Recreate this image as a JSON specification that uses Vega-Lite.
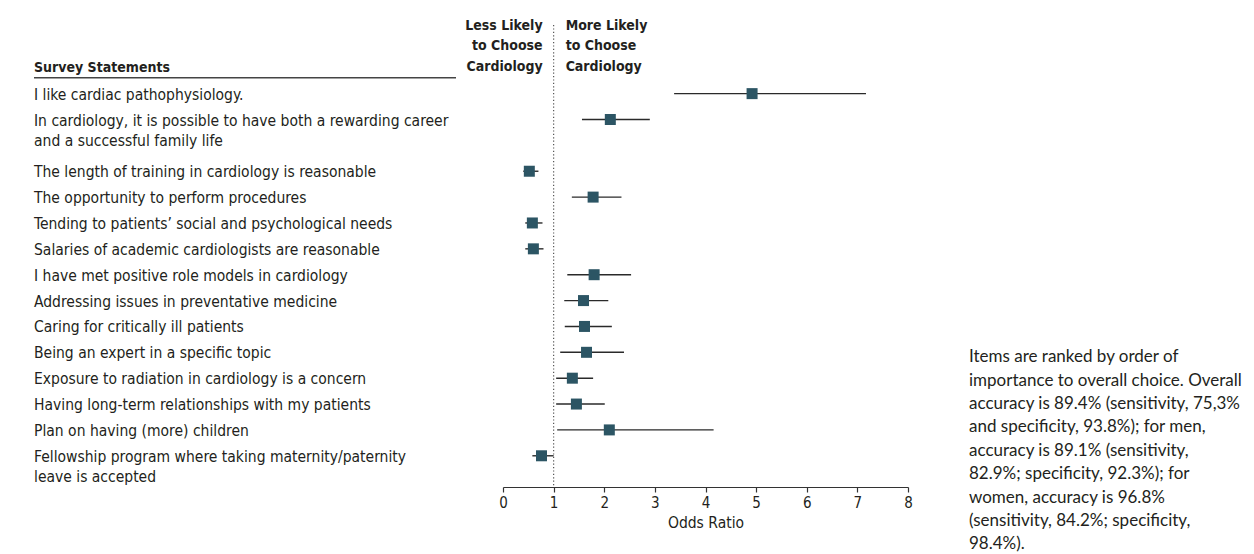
{
  "$schema": "https://vega.github.io/schema/vega-lite/v6.json",
  "padding": {"left": 33, "top": 18, "right": 0, "bottom": 0},
  "background": "white",
  "bounds": "flush",
  "config": {"view": {"stroke": null}, "text": {"lineBreak": "\n"}},
  "datasets": {
    "rows": [
      {"statement": "I like cardiac pathophysiology.", "or": 4.92, "lo": 3.38, "hi": 7.17},
      {"statement": "In cardiology, it is possible to have both a rewarding career\nand a successful family life", "or": 2.12, "lo": 1.56, "hi": 2.90},
      {"statement": "The length of training in cardiology is reasonable", "or": 0.52, "lo": 0.40, "hi": 0.70},
      {"statement": "The opportunity to perform procedures", "or": 1.78, "lo": 1.36, "hi": 2.34},
      {"statement": "Tending to patients’ social and psychological needs", "or": 0.58, "lo": 0.44, "hi": 0.78},
      {"statement": "Salaries of academic cardiologists are reasonable", "or": 0.60, "lo": 0.44, "hi": 0.80},
      {"statement": "I have met positive role models in cardiology", "or": 1.80, "lo": 1.27, "hi": 2.53},
      {"statement": "Addressing issues in preventative medicine", "or": 1.59, "lo": 1.21, "hi": 2.08},
      {"statement": "Caring for critically ill patients", "or": 1.61, "lo": 1.22, "hi": 2.15},
      {"statement": "Being an expert in a specific topic", "or": 1.65, "lo": 1.13, "hi": 2.39},
      {"statement": "Exposure to radiation in cardiology is a concern", "or": 1.37, "lo": 1.05, "hi": 1.78},
      {"statement": "Having long-term relationships with my patients", "or": 1.45, "lo": 1.05, "hi": 2.01},
      {"statement": "Plan on having (more) children", "or": 2.10, "lo": 1.07, "hi": 4.16},
      {"statement": "Fellowship program where taking maternity/paternity\nleave is accepted", "or": 0.76, "lo": 0.58, "hi": 1.00}
    ]
  },
  "resolve": {"scale": {"y": "shared"}},
  "spacing": 47,
  "hconcat": [
    {
      "width": 422,
      "height": 462,
      "layer": [
        {
          "data": {"name": "rows"},
          "mark": {"type": "text", "align": "left", "baseline": "alphabetic", "dy": 6, "fontSize": 15.5, "lineHeight": 20, "font": "DejaVu Sans Condensed, sans-serif", "color": "#231f20"},
          "encoding": {
            "x": {"datum": 0, "type": "quantitative", "scale": {"domain": [0, 1]}, "axis": null},
            "y": {"field": "statement", "type": "nominal", "axis": null,
              "scale": {"type": "band", "paddingInner": 0, "paddingOuter": 0.93, "align": 0.62, "domain": [
                "Survey Statements",
                "I like cardiac pathophysiology.",
                "In cardiology, it is possible to have both a rewarding career\nand a successful family life",
                " ",
                "The length of training in cardiology is reasonable",
                "The opportunity to perform procedures",
                "Tending to patients’ social and psychological needs",
                "Salaries of academic cardiologists are reasonable",
                "I have met positive role models in cardiology",
                "Addressing issues in preventative medicine",
                "Caring for critically ill patients",
                "Being an expert in a specific topic",
                "Exposure to radiation in cardiology is a concern",
                "Having long-term relationships with my patients",
                "Plan on having (more) children",
                "Fellowship program where taking maternity/paternity\nleave is accepted"
              ]}},
            "text": {"field": "statement"}
          }
        },
        {
          "data": {"values": [{"label": "Survey Statements"}]},
          "mark": {"type": "text", "align": "left", "baseline": "alphabetic", "dy": 4.7, "fontSize": 14, "fontWeight": "bold", "font": "DejaVu Sans Condensed, sans-serif", "color": "#231f20"},
          "encoding": {
            "x": {"datum": 0, "type": "quantitative"},
            "y": {"field": "label", "type": "nominal"},
            "text": {"field": "label"}
          }
        },
        {
          "data": {"values": [{"label": "Survey Statements"}]},
          "mark": {"type": "rule", "yOffset": 10, "color": "#444444", "strokeWidth": 1.3},
          "encoding": {
            "x": {"datum": 0, "type": "quantitative"},
            "x2": {"datum": 1},
            "y": {"field": "label", "type": "nominal"}
          }
        }
      ]
    },
    {
      "width": 405,
      "height": 462,
      "layer": [
        {
          "data": {"values": [{}]},
          "mark": {"type": "rule", "color": "#555555", "strokeWidth": 1.2, "strokeDash": [1.2, 2.2]},
          "encoding": {
            "x": {"datum": 1, "type": "quantitative",
              "scale": {"domain": [0, 8], "nice": false},
              "axis": {"values": [0, 1, 2, 3, 4, 5, 6, 7, 8], "grid": false, "labelFlush": false, "tickSize": 5, "tickColor": "#333333", "domainColor": "#333333", "tickWidth": 1.2, "domainWidth": 1.2,
                "labelFont": "DejaVu Sans Condensed, sans-serif", "labelFontSize": 15, "labelColor": "#231f20", "labelPadding": 3,
                "title": "Odds Ratio", "titleFont": "DejaVu Sans Condensed, sans-serif", "titleFontSize": 15.5, "titleFontWeight": "normal", "titleColor": "#231f20", "titlePadding": 5}}
          }
        },
        {
          "data": {"name": "rows"},
          "mark": {"type": "rule", "color": "#2a2a2a", "strokeWidth": 1.4},
          "encoding": {
            "x": {"field": "lo", "type": "quantitative"},
            "x2": {"field": "hi"},
            "y": {"field": "statement", "type": "nominal", "axis": null}
          }
        },
        {
          "data": {"name": "rows"},
          "mark": {"type": "square", "size": 121, "color": "#2c5564", "opacity": 1},
          "encoding": {
            "x": {"field": "or", "type": "quantitative"},
            "y": {"field": "statement", "type": "nominal"}
          }
        },
        {
          "data": {"values": [{"label": "Survey Statements"}]},
          "mark": {"type": "text", "align": "right", "baseline": "alphabetic", "dx": -11, "dy": -38, "fontSize": 14, "fontWeight": "bold", "lineHeight": 20.5, "font": "DejaVu Sans Condensed, sans-serif", "color": "#231f20", "text": ["Less Likely", "to Choose", "Cardiology"]},
          "encoding": {
            "x": {"datum": 1, "type": "quantitative"},
            "y": {"field": "label", "type": "nominal"}
          }
        },
        {
          "data": {"values": [{"label": "Survey Statements"}]},
          "mark": {"type": "text", "align": "left", "baseline": "alphabetic", "dx": 12, "dy": -38, "fontSize": 14, "fontWeight": "bold", "lineHeight": 20.5, "font": "DejaVu Sans Condensed, sans-serif", "color": "#231f20", "text": ["More Likely", "to Choose", "Cardiology"]},
          "encoding": {
            "x": {"datum": 1, "type": "quantitative"},
            "y": {"field": "label", "type": "nominal"}
          }
        }
      ]
    },
    {
      "width": 250,
      "height": 462,
      "data": {"values": [{"anchor": "Being an expert in a specific topic"}]},
      "mark": {"type": "text", "align": "left", "baseline": "top", "dx": 14, "dy": -3, "fontSize": 17, "lineHeight": 23.4, "font": "Lato, sans-serif", "color": "#231f20",
        "text": ["Items are ranked by order of", "importance to overall choice. Overall", "accuracy is 89.4% (sensitivity, 75,3%", "and specificity, 93.8%); for men,", "accuracy is 89.1% (sensitivity,", "82.9%; specificity, 92.3%); for", "women, accuracy is 96.8%", "(sensitivity, 84.2%; specificity,", "98.4%)."]},
      "encoding": {
        "x": {"datum": 0, "type": "quantitative", "scale": {"domain": [0, 1]}, "axis": null},
        "y": {"field": "anchor", "type": "nominal", "axis": null}
      }
    }
  ]
}
